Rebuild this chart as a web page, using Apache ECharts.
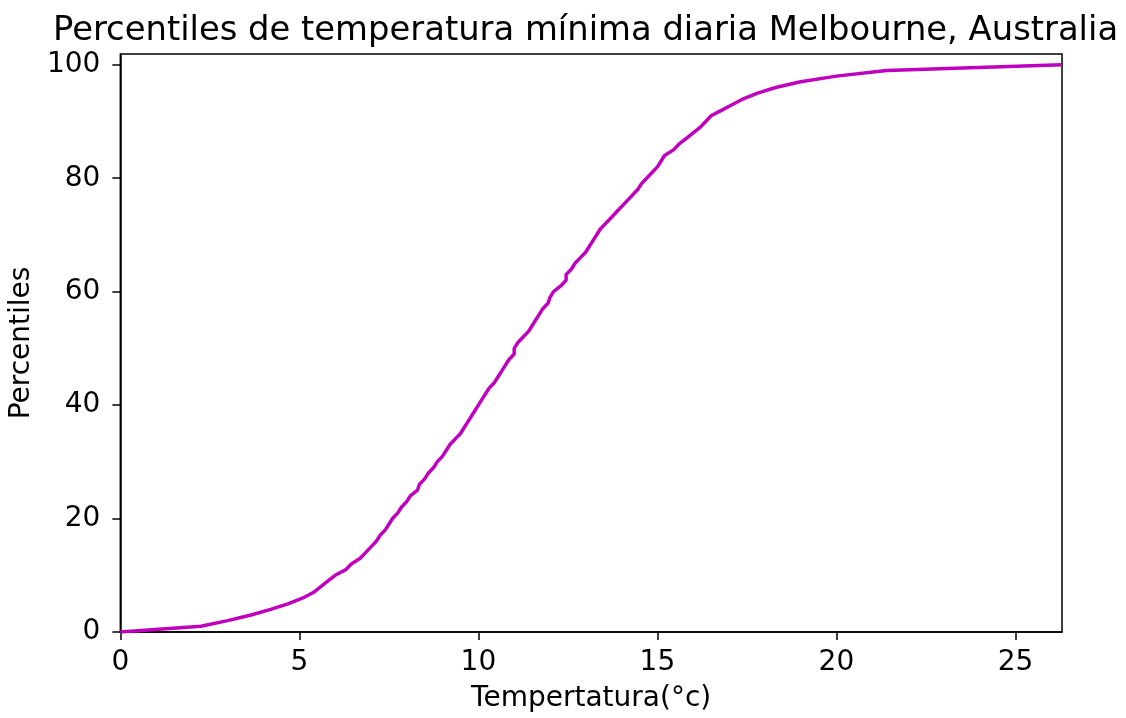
<!DOCTYPE html>
<html>
<head>
<meta charset="utf-8">
<script src="https://cdn.jsdelivr.net/npm/echarts@6/dist/echarts.min.js"></script>
<style>
html,body{margin:0;padding:0;background:#fff;}
#chart{width:1126px;height:718px;}
</style>
</head>
<body>
<div id="chart"></div>
<script>
const titleText = "Percentiles de temperatura mínima diaria Melbourne, Australia";
const xAxisName = "Tempertatura(°c)";
const yAxisName = "Percentiles";
const percentiles = [0,1,2,3,4,5,6,7,8,9,10,11,12,13,14,15,16,17,18,19,20,21,22,23,24,25,26,27,28,29,30,31,32,33,34,35,36,37,38,39,40,41,42,43,44,45,46,47,48,49,50,51,52,53,54,55,56,57,58,59,60,61,62,63,64,65,66,67,68,69,70,71,72,73,74,75,76,77,78,79,80,81,82,83,84,85,86,87,88,89,90,91,92,93,94,95,96,97,98,99,100];
const temperatures = [0.0,2.25,3.0,3.65,4.2,4.7,5.1,5.4,5.6,5.8,6.0,6.3,6.45,6.7,6.85,7.0,7.15,7.25,7.4,7.5,7.6,7.75,7.85,8.0,8.1,8.3,8.35,8.5,8.6,8.75,8.85,9.0,9.1,9.2,9.35,9.5,9.6,9.7,9.8,9.9,10.0,10.1,10.2,10.3,10.45,10.55,10.65,10.75,10.85,11.0,11.0,11.1,11.25,11.4,11.5,11.6,11.7,11.8,11.95,12.0,12.1,12.3,12.45,12.45,12.6,12.7,12.85,13.0,13.1,13.2,13.3,13.4,13.55,13.7,13.85,14.0,14.15,14.3,14.45,14.55,14.7,14.85,15.0,15.1,15.2,15.45,15.6,15.8,16.0,16.2,16.35,16.5,16.8,17.1,17.4,17.8,18.3,19.0,20.0,21.4,26.3];

const font = "DejaVu Sans";
const chart = echarts.init(document.getElementById('chart'), null, {renderer:'canvas'});
const pts = temperatures.map((t,i)=>[t, percentiles[i]]);
chart.setOption({
  animation:false,
  backgroundColor:'#ffffff',
  title:{
    text:titleText, left:48, top:9,
    textStyle:{fontFamily:font, fontSize:33.8, fontWeight:'normal', color:'#000'}
  },
  grid:{left:120, right:64, top:54, bottom:85, show:true, borderColor:'#000', borderWidth:1.5, backgroundColor:'transparent'},
  xAxis:{
    type:'value', min:0, max:26.3, interval:5,
    name:xAxisName, nameLocation:'middle', nameGap:53,
    nameTextStyle:{fontFamily:font, fontSize:28, color:'#000'},
    axisLine:{show:true, lineStyle:{color:'#000', width:1.5}},
    axisTick:{show:true, inside:false, length:8, lineStyle:{color:'#000', width:1.5}},
    axisLabel:{fontFamily:font, fontSize:28, color:'#000', margin:17, showMaxLabel:false},
    splitLine:{show:false}
  },
  yAxis:{
    type:'value', min:0, max:101.9, interval:20,
    name:yAxisName, nameLocation:'middle', nameGap:79,
    nameTextStyle:{fontFamily:font, fontSize:28, color:'#000'},
    axisLine:{show:true, lineStyle:{color:'#000', width:1.5}},
    axisTick:{show:true, inside:false, length:8, lineStyle:{color:'#000', width:1.5}},
    axisLabel:{fontFamily:font, fontSize:28, color:'#000', margin:20, showMaxLabel:false},
    splitLine:{show:false}
  },
  series:[{
    type:'line', data:pts, showSymbol:false, symbol:'none',
    lineStyle:{color:'#bf00bf', width:3.5},
    clip:true
  }]
});
</script>
</body>
</html>
